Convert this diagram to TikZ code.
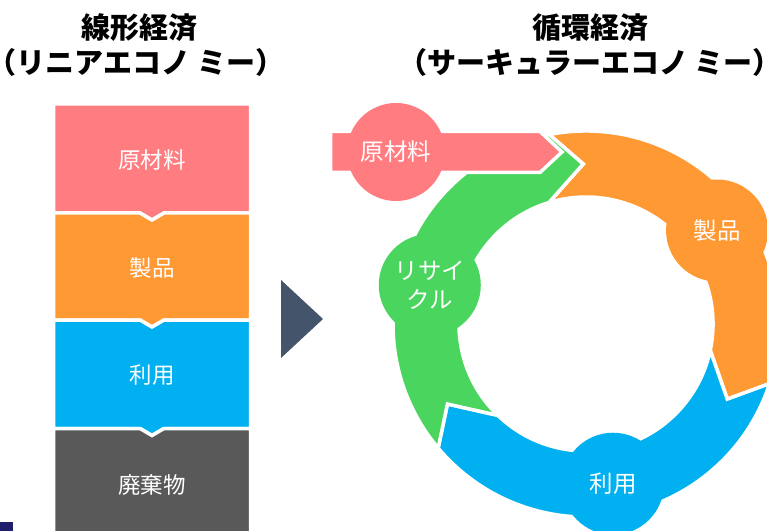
\documentclass[tikz,border=0pt]{standalone}
\usepackage{fontspec}
\usepackage{xcolor}
\usepackage{tikz}
\usetikzlibrary{positioning,shapes}
\newfontfamily\jp{Noto Sans CJK JP}
\definecolor{rawpink}{HTML}{FF7C80}
\definecolor{prodorange}{HTML}{FF9933}
\definecolor{useblue}{HTML}{00B0F0}
\definecolor{recgreen}{HTML}{4AD55E}
\definecolor{wastegray}{HTML}{595959}
\definecolor{slate}{HTML}{44546A}
\definecolor{navymark}{HTML}{1F1F6E}
\tikzset{%
	headtext/.style = {font=\jp\bfseries\fontsize{29bp}{34bp}\selectfont, text centered, inner sep=0pt},
	boxtext/.style  = {font=\jp\fontsize{22.5bp}{29bp}\selectfont, text=white, align=center, inner sep=0pt},
	piece/.style    = {draw=white, line width=3.5bp, line join=miter},
	ringdisc/.style = {circle, minimum size=102bp, inner sep=0pt, font=\jp\fontsize{23.5bp}{29bp}\selectfont, text=white, align=center},
}

\begin{document}
\begin{tikzpicture}[x=1bp,y=1bp]
	\useasboundingbox (0,0) rectangle (767,-531);
	
	% titles
	\node[headtext] (lintitle) at (139.5,-27.5) {線形経済};
	\node[headtext] (linsub) at (136,-62.5) {\kern-0.5em（リニアエコノ ミー）\kern-0.5em};
	\node[headtext] (circtitle) at (590,-27.5) {循環経済};
	\node[headtext] (circsub) at (590,-62.5) {\kern-0.5em（サーキュラーエコノ ミー）\kern-0.5em};
	
	% linear chain of chevron boxes
	\foreach \ytop/\ybot/\dip/\col/\txt [count=\i] in {104/213/0/rawpink/原材料, 213/320/7/prodorange/製品, 320/428.5/7/useblue/利用, 428.5/540/7/wastegray/廃棄物}{
		\draw[piece, fill=\col] (53.5,-\ytop) -- (140,-\ytop) -- (152,-\ytop-\dip) -- (164,-\ytop) -- (250.5,-\ytop)
			-- (250.5,-\ybot) -- (164,-\ybot) -- (152,-\ybot-7) -- (140,-\ybot) -- (53.5,-\ybot) -- cycle;
		\node[boxtext] (lin\i) at (152,{-(\ytop+\ybot)/2-1}) {\txt};
	}
	
	\fill[slate] (281,-280) -- (323,-319) -- (281,-358) -- cycle; % arrow between
	\fill[navymark] (0,-522) rectangle (13,-531);
	
	% cycle
	\begin{scope}[shift={(586,-324)}]
	\draw[piece, fill=prodorange] (101:193) arc[start angle=101, end angle=-18, radius=193] -- (-28:160)
		-- (-12:127) arc[start angle=-12, end angle=107, radius=127] -- (91:160) -- cycle;
	\draw[piece, fill=useblue] (-18:193) arc[start angle=-18, end angle=-140, radius=193] -- (-150:160)
		-- (-134:127) arc[start angle=-134, end angle=-12, radius=127] -- (-28:160) -- cycle;
	\draw[piece, fill=recgreen] (-140:193) arc[start angle=-140, end angle=-259, radius=193] -- (-269:160)
		-- (-253:127) arc[start angle=-253, end angle=-134, radius=127] -- (-150:160) -- cycle;
	
	\node[ringdisc, fill=prodorange] (ringprod) at (35.5:161) {製品};
	\node[ringdisc, fill=useblue] (ringuse) at (-80.4:162) {利用};
	\node[ringdisc, fill=recgreen] (ringrec) at (166:161) {リサイ\\クル};
	\end{scope}
	
	% raw material input
	\draw[piece, fill=rawpink] (330.5,-131.5) -- (540,-131.5) -- (562,-152) -- (540,-172.5) -- (330.5,-172.5) -- cycle;
	\node[ringdisc, fill=rawpink, minimum size=98bp] (ringraw) at (396,-152) {原材料};
	
\end{tikzpicture}
\end{document}
